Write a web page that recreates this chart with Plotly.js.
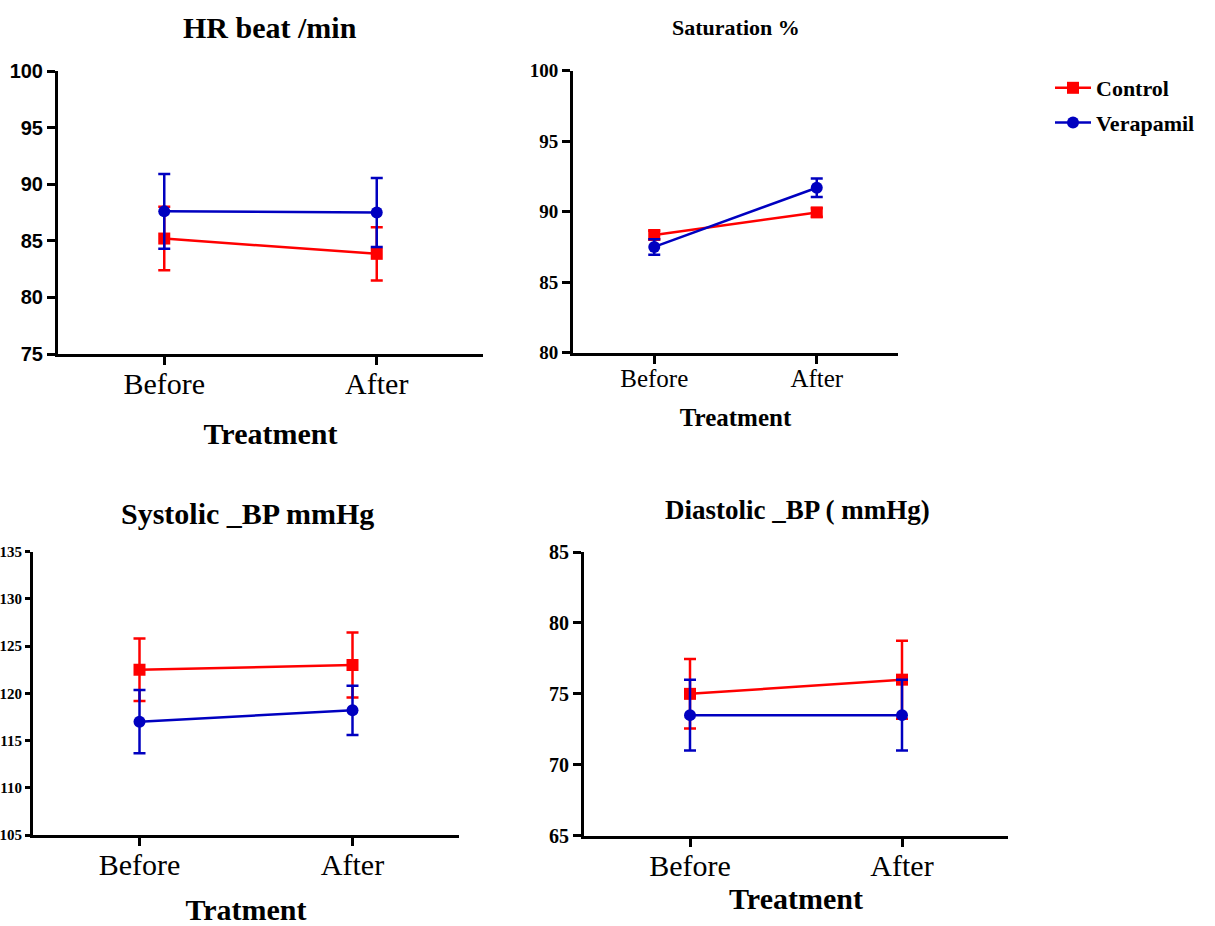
<!DOCTYPE html>
<html>
<head>
<meta charset="utf-8">
<script src="https://cdn.plot.ly/plotly-3.0.1.min.js"></script>
<style>html,body{margin:0;padding:0;background:#fff;}#chart{width:1215px;height:926px;}</style>
</head>
<body>
<div id="chart"></div>
<script>
// ---- data ----
const categories = ['Before', 'After'];
const seriesNames = ['Control', 'Verapamil'];

const hrControl = [85.2, 83.85];
const hrControlErr = [2.8, 2.35];
const hrVerapamil = [87.6, 87.5];
const hrVerapamilErr = [3.3, 3.05];

const satControl = [88.35, 89.95];
const satControlErr = [0.3, 0.3];
const satVerapamil = [87.5, 91.7];
const satVerapamilErr = [0.55, 0.65];

const sysControl = [122.5, 123.0];
const sysControlErr = [3.3, 3.45];
const sysVerapamil = [117.0, 118.2];
const sysVerapamilErr = [3.35, 2.6];

const diaControl = [75.0, 76.0];
const diaControlErr = [2.45, 2.75];
const diaVerapamil = [73.5, 73.5];
const diaVerapamilErr = [2.5, 2.5];

const panelTitles = ['HR beat /min', 'Saturation %', 'Systolic _BP mmHg', 'Diastolic _BP ( mmHg)'];
const xTitles = ['Treatment', 'Treatment', 'Tratment', 'Treatment'];
const yTicks1 = [75, 80, 85, 90, 95, 100];
const yTicks2 = [80, 85, 90, 95, 100];
const yTicks3 = [105, 110, 115, 120, 125, 130, 135];
const yTicks4 = [65, 70, 75, 80, 85];

// ---- styling ----
const W = 1215, H = 926;
const RED = '#FF0000', BLUE = '#0000C0';
const SERIF = '"Liberation Serif", "Times New Roman", serif';
const SANS = '"Liberation Sans", Arial, sans-serif';
const px = v => v / W;
const py = v => 1 - v / H;

function trace(yv, err, name, color, symbol, xa, ya, showlegend) {
  return {
    x: categories, y: yv, name: name, type: 'scatter', mode: 'lines+markers',
    xaxis: xa, yaxis: ya, showlegend: showlegend, legendgroup: name, cliponaxis: false,
    line: {color: color, width: 2.5},
    marker: {color: color, symbol: symbol, size: 12},
    error_y: {type: 'data', array: err, visible: true, color: color, thickness: 2.5, width: 6}
  };
}

const data = [
  trace(hrControl, hrControlErr, seriesNames[0], RED, 'square', 'x', 'y', true),
  trace(hrVerapamil, hrVerapamilErr, seriesNames[1], BLUE, 'circle', 'x', 'y', true),
  trace(satControl, satControlErr, seriesNames[0], RED, 'square', 'x2', 'y2', false),
  trace(satVerapamil, satVerapamilErr, seriesNames[1], BLUE, 'circle', 'x2', 'y2', false),
  trace(sysControl, sysControlErr, seriesNames[0], RED, 'square', 'x3', 'y3', false),
  trace(sysVerapamil, sysVerapamilErr, seriesNames[1], BLUE, 'circle', 'x3', 'y3', false),
  trace(diaControl, diaControlErr, seriesNames[0], RED, 'square', 'x4', 'y4', false),
  trace(diaVerapamil, diaVerapamilErr, seriesNames[1], BLUE, 'circle', 'x4', 'y4', false)
];

function xaxis(left, right, anchor, title, fs, tfs, standoff) {
  return {
    domain: [px(left), px(right)], anchor: anchor, type: 'category',
    range: [-0.5, 1.5], showgrid: false, zeroline: false,
    showline: true, linecolor: '#000', linewidth: 3,
    ticks: 'outside', ticklen: 8, tickwidth: 3, tickcolor: '#000',
    ticklabelstandoff: -7,
    tickfont: {family: SERIF, size: fs, color: '#000'},
    title: {text: title, font: {family: SERIF, size: tfs, color: '#000', weight: 'bold'}, standoff: standoff},
    automargin: false, fixedrange: true
  };
}
function yaxis(top, bottom, anchor, ticks, font, ticklen) {
  return {
    domain: [py(bottom), py(top)], anchor: anchor,
    range: [ticks[0], ticks[ticks.length - 1]], tickvals: ticks,
    showgrid: false, zeroline: false,
    showline: true, linecolor: '#000', linewidth: 3,
    ticks: 'outside', ticklen: ticklen, tickwidth: 3, tickcolor: '#000',
    tickfont: font, automargin: false, fixedrange: true
  };
}

const layout = {
  width: W, height: H,
  margin: {l: 0, r: 0, t: 0, b: 0},
  paper_bgcolor: '#fff', plot_bgcolor: '#fff',
  showlegend: true,
  legend: {
    x: px(1050), y: py(67), xanchor: 'left', yanchor: 'top',
    font: {family: SERIF, size: 22, color: '#000', weight: 'bold'},
    bgcolor: 'rgba(0,0,0,0)', itemwidth: 36, tracegroupgap: 3
  },
  xaxis: xaxis(58, 483, 'y', xTitles[0], 30, 30, 24),
  yaxis: yaxis(71, 354, 'x', yTicks1, {family: SANS, size: 20, color: '#000', weight: 'bold'}, 8),
  xaxis2: xaxis(573, 898, 'y2', xTitles[1], 25, 25, 18),
  yaxis2: yaxis(70.7, 352.7, 'x2', yTicks2, {family: SERIF, size: 19, color: '#000', weight: 'bold'}, 8),
  xaxis3: xaxis(33, 459, 'y3', xTitles[2], 30, 30, 34),
  yaxis3: yaxis(551.7, 835, 'x3', yTicks3, {family: SERIF, size: 15, color: '#000', weight: 'bold'}, 5),
  xaxis4: xaxis(584, 1008, 'y4', xTitles[3], 30, 30, 6),
  yaxis4: yaxis(552, 835.7, 'x4', yTicks4, {family: SERIF, size: 20, color: '#000', weight: 'bold'}, 8),
  annotations: [
    {text: panelTitles[0], x: px(270), y: py(27), size: 30},
    {text: panelTitles[1], x: px(736), y: py(28), size: 22},
    {text: panelTitles[2], x: px(247), y: py(513), size: 30},
    {text: panelTitles[3], x: px(797), y: py(510), size: 27}
  ].map(a => ({
    text: a.text, x: a.x, y: a.y, xref: 'paper', yref: 'paper',
    xanchor: 'center', yanchor: 'middle', showarrow: false,
    font: {family: SERIF, size: a.size, color: '#000', weight: 'bold'}
  }))
};

Plotly.newPlot('chart', data, layout, {displayModeBar: false, staticPlot: true});
</script>
</body>
</html>
